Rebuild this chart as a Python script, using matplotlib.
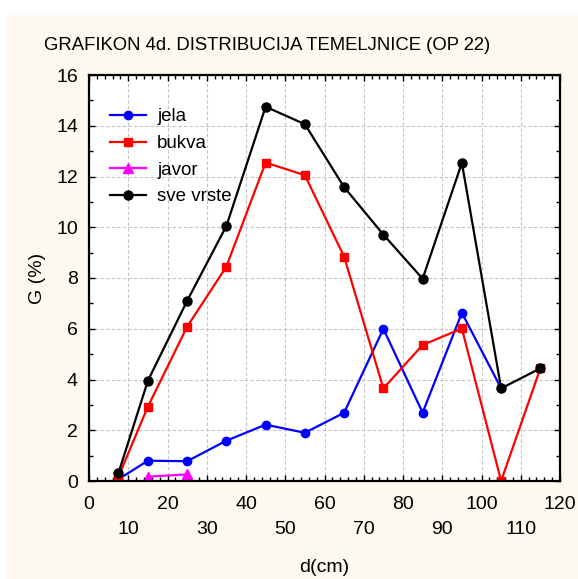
import numpy as np
import matplotlib
matplotlib.use("Agg")
import matplotlib.pyplot as plt
from matplotlib.patches import Rectangle
from matplotlib.ticker import MultipleLocator

plt.rcParams['font.family'] = ['Liberation Sans', 'DejaVu Sans']

# debljinski razredi (sredine)
d_cm = [7.5, 15, 25, 35, 45, 55, 65, 75, 85, 95, 105, 115]

jela = [0.07, 0.80, 0.78, 1.59, 2.22, 1.90, 2.69, 6.00, 2.69, 6.63, 3.65, np.nan]
bukva = [0.17, 2.93, 6.08, 8.45, 12.55, 12.05, 8.84, 3.65, 5.36, 6.01, 0.0, 4.44]
javor = [np.nan, 0.17, 0.26, np.nan, np.nan, np.nan, np.nan, np.nan, np.nan, np.nan, np.nan, np.nan]
sve_vrste = [0.31, 3.95, 7.10, 10.05, 14.75, 14.06, 11.58, 9.71, 7.97, 12.54, 3.65, 4.44]

x_ticks = list(range(0, 121, 10))
x_labels = [str(t) if t % 20 == 0 else '\n' + str(t) for t in x_ticks]

title = 'GRAFIKON 4d. DISTRIBUCIJA TEMELJNICE (OP 22)'
cream = '#fdf9ee'


def main():
    fig = plt.figure(figsize=(5.78, 5.79), dpi=100, facecolor='white')
    # krem pozadina (gore i lijevo ostaje bijela traka)
    fig.patches.append(Rectangle((7 / 578, 0), 1, (579 - 15) / 579,
                                 transform=fig.transFigure, facecolor=cream,
                                 edgecolor='none', zorder=-10))

    ax = fig.add_axes([89 / 578, 98 / 579, 471 / 578, 406 / 579])
    ax.set_facecolor('white')

    ax.plot(d_cm, jela, color='#0000ff', lw=1.6, marker='o', ms=6, label='jela')
    ax.plot(d_cm, bukva, color='#ff0000', lw=1.6, marker='s', ms=5.8, label='bukva')
    ax.plot(d_cm, javor, color='#ff00ff', lw=1.6, marker='^', ms=6.5, label='javor')
    ax.plot(d_cm, sve_vrste, color='black', lw=1.6, marker='o', ms=6.5, label='sve vrste')

    ax.set_xlim(0, 120)
    ax.set_ylim(0, 16)
    ax.set_xticks(x_ticks)
    ax.set_xticklabels(x_labels)
    for lbl in ax.get_xticklabels():
        lbl.set_linespacing(1.6)
    ax.yaxis.set_major_locator(MultipleLocator(2))
    ax.xaxis.set_minor_locator(MultipleLocator(2))
    ax.yaxis.set_minor_locator(MultipleLocator(1))

    ax.tick_params(which='both', direction='in', top=True, right=True,
                   labelsize=14, width=1, color='black')
    ax.tick_params(which='major', length=4)
    ax.tick_params(which='minor', length=3)
    ax.tick_params(axis='x', which='major', pad=11)
    ax.tick_params(axis='y', which='major', pad=8)

    ax.grid(True, which='major', color='#c4c4c4', linestyle=(0, (3, 2)), lw=0.8)
    ax.set_axisbelow(True)
    for s in ax.spines.values():
        s.set_linewidth(1.6)
        s.set_color('black')

    ax.set_xlabel('d(cm)', fontsize=14, labelpad=15)
    ax.set_ylabel('G (%)', fontsize=14, labelpad=7)

    ax.legend(loc='upper left', bbox_to_anchor=(0.045, 0.918), frameon=False,
              fontsize=13.5, borderaxespad=0, borderpad=0, handlelength=1.9,
              handletextpad=0.6, labelspacing=0.51)

    fig.text(267 / 578, (579 - 45) / 579, title, ha='center', va='center',
             fontsize=13.3)

    fig.savefig('out.png', dpi=100, facecolor=fig.get_facecolor())


if __name__ == "__main__":
    main()
